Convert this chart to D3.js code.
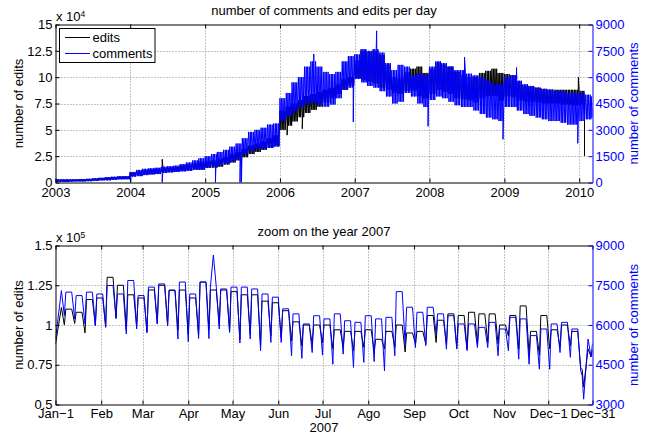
<!DOCTYPE html>
<html><head><meta charset="utf-8">
<script src="https://cdn.jsdelivr.net/npm/d3@7/dist/d3.min.js"></script>
<style>
body{margin:0;background:#fff}
text{font-family:"Liberation Sans",Arial,Helvetica,sans-serif}
</style></head><body>
<svg id="c" width="651" height="436"></svg>
<script>
// ---------- DATA (top chart: monthly weekday-high / weekend-low levels, Jan 2003 ->) ----------
const topStart = "2003-01-01";
const topEnd = "2010-03-07";
const editsEnd = "2010-01-27";
const commentsHiMonthly = [
 180,180,180,180,190,210,240,270,300,330,360,360,
 600,720,780,810,840,900,930,960,1050,1140,1260,1380,
 1500,1620,1740,1860,2040,2220,2520,2880,3000,3120,3300,3360,
 4800,5100,5700,6000,6600,6900,6600,6300,6180,6300,6900,7200,
 7300,7600,7500,7600,7400,6800,6400,6700,6600,6100,6200,6100,
 6600,6900,6800,6600,6400,6400,6200,6100,6000,5800,5600,5600,
 6000,6100,5800,5600,5500,5400,5300,5300,5200,5200,5100,5100,
 5100,5000,4900];
const commentsLoMonthly = [
 30,30,50,60,60,70,90,120,120,150,180,180,
 330,360,420,450,480,540,570,600,630,660,720,720,
 840,900,960,1080,1200,1320,1620,1800,1920,1920,1980,2040,
 3540,3780,4080,4320,4500,4560,4440,4320,4440,4800,5280,5400,
 5900,5700,5500,5400,5200,4900,4500,4600,5100,4900,4500,4300,
 4700,4900,4800,4600,4400,4300,4300,4100,3900,3700,3600,3500,
 4300,4300,4100,3900,3800,3700,3600,3500,3500,3400,3300,3300,
 3500,3600,3700];
const editsHiMonthly = [
 2800,2800,2800,3000,3200,3400,3800,4300,4800,5200,5600,5800,
 9500,11000,12000,12500,13000,14000,14500,15000,16000,17000,18500,19500,
 20000,21000,22000,24000,27000,29000,32000,35000,37000,39000,42000,45000,
 68000,72000,75000,78000,82000,84000,86000,88000,90000,93000,98000,100000,
 116000,125000,124000,125000,121000,112000,100000,98000,105000,108000,110000,104000,
 108000,114000,112000,110000,105000,102000,100000,100000,104000,106000,108000,104000,
 103000,102000,96000,92000,91000,90000,89000,88000,88000,88000,88000,88000,
 87000];
const editsLoMonthly = [
 800,800,1000,1200,1200,1400,1700,2200,2400,2800,3200,3300,
 6000,6500,7500,8000,8500,9500,10000,10500,11000,11500,12500,12500,
 14000,14000,15000,17000,19000,21000,24000,27000,29000,31000,33000,35000,
 50000,54000,58000,62000,66000,69000,72000,76000,80000,84000,88000,92000,
 99000,97000,96000,94000,90000,88000,85000,84000,87000,87000,82000,80000,
 84000,88000,86000,84000,80000,79000,78000,76000,80000,82000,82000,78000,
 82000,81000,78000,77000,77000,76000,75000,75000,75000,74000,74000,73000,
 74000];
// single-day outliers in the top chart
const commentsTopSpikeDates = ["2004-01-02","2004-06-05","2005-02-20","2005-06-20","2005-06-27","2005-12-25","2006-06-15","2006-12-25","2007-04-18","2007-12-25","2008-06-20","2008-12-25","2009-03-01","2009-12-25","2010-03-06"];
const commentsTopSpikeValues = [0,0,0,0,0,2100,7320,3450,8640,3200,7150,2460,6550,2230,4300];
const editsTopSpikeDates = ["2004-06-05","2006-02-05","2006-04-20","2009-12-28","2010-01-27"];
const editsTopSpikeValues = [22000,45000,51000,100000,25000];

// ---------- DATA (bottom chart: 2007, weekly weekday level and weekend level) ----------
const commentsWeekHi = [7300,7240,7110,7240,7170,7490,7170,7680,7110,7430,7550,7300,7620,7170,7620,7430,7360,7430,7430,7360,7170,7050,6610,6420,6040,6350,
 6230,6420,6160,6100,6350,6230,6290,7260,6670,6480,6670,6420,6350,6040,6040,5910,6100,5850,6290,6230,5600,5850,6040,6100,5850,5470];
const commentsWeekLo = [6350,6230,6040,5970,5910,6290,5660,5850,5700,6040,5970,5470,5370,5490,5490,5850,5720,5320,5470,5030,5340,5340,4840,4740,4960,4860,
 4520,4900,4400,4590,4620,4270,4840,5280,5150,5220,5660,5090,5090,5030,5150,5150,4840,5030,4710,4520,4330,4330,4960,4780,4270,4800];
const editsWeekHi = [111000,110000,108000,116000,117000,130000,125000,119000,117000,122000,125000,122000,122000,117000,127000,122000,122000,121000,119000,119000,115000,114000,109000,102000,100000,100000,
 100000,97000,96000,96000,97000,91000,96000,100000,95000,96000,106000,103000,107000,106000,108000,107000,107000,100000,106000,112000,96000,106000,97000,100000,96000,85000];
const editsWeekLo = [100000,101000,95000,100000,99000,104000,97000,99000,96000,101000,100000,97000,94000,94000,97000,100000,96000,91000,94000,87000,93000,92000,90000,87000,88000,89000,
 85000,86000,84000,86000,83000,85000,86000,83000,88000,88000,89000,88000,86000,85000,88000,89000,88000,93000,85000,81000,81000,85000,86000,87000,73000,80000];
const commentsDayDates = ["2007-01-01","2007-04-18","2007-12-24","2007-12-25","2007-12-31"];
const commentsDayValues = [5470,8640,4100,3200,5300];
const editsDayDates = ["2007-01-01","2007-12-24","2007-12-25","2007-12-31"];
const editsDayValues = [88000,72000,61000,84000];

// ---------- TICKS ----------
const yearTicks = [2003,2004,2005,2006,2007,2008,2009,2010];
const topLeftTicks = [0,25000,50000,75000,100000,125000,150000];
const topLeftLabels = ["0","2.5","5","7.5","10","12.5","15"];
const topRightTicks = [0,1500,3000,4500,6000,7500,9000];
const monthTickDates = ["2007-01-01","2007-02-01","2007-03-01","2007-04-01","2007-05-01","2007-06-01","2007-07-01","2007-08-01","2007-09-01","2007-10-01","2007-11-01","2007-12-01","2007-12-31"];
const monthTickLabels = ["Jan\u22121","Feb","Mar","Apr","May","Jun","Jul","Ago","Sep","Oct","Nov","Dec\u22121","Dec\u221231"];
const botLeftTicks = [50000,75000,100000,125000,150000];
const botLeftLabels = ["0.5","0.75","1","1.25","1.5"];
const botRightTicks = [3000,4500,6000,7500,9000];

// ---------- DRAW ----------
const BLUE = "#0000ff", FS = 13, DAY = 864e5;
const svg = d3.select("#c");
const P1 = {l:55.5, r:592.5, t:24.5, b:182.5};
const P2 = {l:55.5, r:592.5, t:245.5, b:404.5};

function buildTop(hi, lo, sd, sv, end){
  const pts = [];
  const offs = [0,4,8,11,15,19,23,26];
  hi.forEach((h,i)=>{
    const m0 = Date.UTC(2003, i, 1);
    offs.forEach((d,j)=>{
      const t = m0 + d*DAY; if (t <= end) pts.push({t, v: j%2 ? lo[i] : h});
    });
  });
  sd.forEach((s,j)=>pts.push({t:Date.parse(s), v:sv[j]}));
  return pts.sort((a,b)=>a.t-b.t);
}
function buildWeek(hi, lo, sd, sv){
  const m = new Map();
  hi.forEach((h,k)=>{
    const mon = Date.UTC(2007,0,1+7*k);
    m.set(mon, h); m.set(mon+4*DAY, h); m.set(mon+6*DAY, lo[k]);
  });
  sd.forEach((s,j)=>m.set(Date.parse(s), sv[j]));
  return Array.from(m, ([t,v])=>({t,v})).sort((a,b)=>a.t-b.t);
}

function styleAxis(g, color, showText){
  g.attr("font-family", null).attr("font-size", null);
  g.selectAll("path").attr("stroke", color).attr("stroke-width", 1);
  g.selectAll("line").attr("stroke", color).attr("stroke-width", 1);
  g.selectAll("text").attr("fill", color).style("font-size", FS+"px")
    .style("font-family", '"Liberation Sans",Arial,Helvetica,sans-serif');
  if (!showText) g.selectAll("text").remove();
}

function panel(P, x, yL, yR, xTicks, xLabels, yLTicks, yLLabels, yRTicks, series, title, expo){
  const clipId = "clip"+Math.round(P.t);
  svg.append("clipPath").attr("id", clipId).append("rect")
    .attr("x", P.l).attr("y", P.t).attr("width", P.r-P.l).attr("height", P.b-P.t);
  const grid = svg.append("g").attr("stroke", "#8a8a8a").attr("stroke-dasharray", "1,2").attr("stroke-width", 1);
  xTicks.slice(1, -1).forEach(t=>grid.append("line").attr("x1", Math.round(x(t))+0.5).attr("x2", Math.round(x(t))+0.5).attr("y1", P.t).attr("y2", P.b));
  if (x(xTicks[xTicks.length-1]) < P.r - 2) {
    const t = xTicks[xTicks.length-1];
    grid.append("line").attr("x1", Math.round(x(t))+0.5).attr("x2", Math.round(x(t))+0.5).attr("y1", P.t).attr("y2", P.b);
  }
  yLTicks.slice(1, -1).forEach(v=>grid.append("line").attr("x1", P.l).attr("x2", P.r).attr("y1", Math.round(yL(v))+0.5).attr("y2", Math.round(yL(v))+0.5));

  const g = svg.append("g").attr("clip-path", `url(#${clipId})`);
  series.forEach(s=>{
    const sc = s.axis === "L" ? yL : yR;
    g.append("path").datum(s.data).attr("fill", "none").attr("stroke", s.color).attr("stroke-width", 1)
      .attr("stroke-linejoin", "round")
      .attr("d", d3.line().x(d=>x(d.t)).y(d=>sc(d.v)));
  });

  const fmtX = d=>xLabels[xTicks.indexOf(+d)];
  svg.append("g").attr("transform", `translate(0,${P.b})`)
    .call(d3.axisBottom(x).tickValues(xTicks).tickFormat(fmtX).tickSize(-4).tickSizeOuter(0).tickPadding(P===P1?5:4.5))
    .call(g=>styleAxis(g, "#000", true));
  svg.append("g").attr("transform", `translate(0,${P.t})`)
    .call(d3.axisTop(x).tickValues(xTicks).tickSize(-4).tickSizeOuter(0))
    .call(g=>styleAxis(g, "#000", false));
  svg.append("g").attr("transform", `translate(${P.l},0)`)
    .call(d3.axisLeft(yL).tickValues(yLTicks).tickFormat((d,i)=>yLLabels[i]).tickSize(-4).tickSizeOuter(0).tickPadding(3))
    .call(g=>styleAxis(g, "#000", true));
  svg.append("g").attr("transform", `translate(${P.r},0)`)
    .call(d3.axisRight(yR).tickValues(yRTicks).tickFormat(d3.format("d")).tickSize(-4).tickSizeOuter(0).tickPadding(3))
    .call(g=>styleAxis(g, BLUE, true));

  svg.append("text").attr("x", (P.l+P.r)/2).attr("y", P.t-(P===P1?10:9.5)).attr("text-anchor", "middle")
    .style("font-size", FS+"px").text(title);
  const ex = svg.append("text").attr("x", P.l+0.5).attr("y", P.t-4).style("font-size", FS+"px").text("x 10");
  ex.append("tspan").attr("dy", -4).style("font-size", "8.5px").text(expo);
  const cy = (P.t+P.b)/2;
  svg.append("text").attr("transform", `translate(23,${cy}) rotate(-90)`).attr("text-anchor", "middle")
    .style("font-size", FS+"px").text("number of edits");
  svg.append("text").attr("transform", `translate(638,${cy}) rotate(-90)`).attr("text-anchor", "middle")
    .attr("fill", BLUE).style("font-size", FS+"px").text("number of comments");
}

// top panel
const x1 = d3.scaleUtc().domain([Date.parse(topStart), Date.parse(topEnd)]).range([P1.l, P1.r]);
const yL1 = d3.scaleLinear().domain([0,150000]).range([P1.b, P1.t]);
const yR1 = d3.scaleLinear().domain([0,9000]).range([P1.b, P1.t]);
const yearT = yearTicks.map(y=>Date.UTC(y,0,1));
panel(P1, x1, yL1, yR1, yearT, yearTicks.map(String), topLeftTicks, topLeftLabels, topRightTicks, [
  {axis:"L", color:"#000", data: buildTop(editsHiMonthly, editsLoMonthly, editsTopSpikeDates, editsTopSpikeValues, Date.parse(editsEnd))},
  {axis:"R", color:BLUE, data: buildTop(commentsHiMonthly, commentsLoMonthly, commentsTopSpikeDates, commentsTopSpikeValues, Date.parse(topEnd))}
], "number of comments and edits per day", "4");

// legend
const lg = svg.append("g");
lg.append("rect").attr("x", 59.5).attr("y", 28.5).attr("width", 95.5).attr("height", 34)
  .attr("fill", "#fff").attr("stroke", "#000");
[["edits","#000",37.5],["comments",BLUE,53.5]].forEach(([t,c,y])=>{
  lg.append("line").attr("x1", 65).attr("x2", 90).attr("y1", y).attr("y2", y).attr("stroke", c).attr("stroke-width", 1);
  lg.append("text").attr("x", 92.5).attr("y", y+4.6).style("font-size", FS+"px").text(t);
});

// bottom panel
const x2 = d3.scaleUtc().domain([Date.parse("2007-01-01"), Date.parse("2007-12-31")]).range([P2.l, P2.r]);
const yL2 = d3.scaleLinear().domain([50000,150000]).range([P2.b, P2.t]);
const yR2 = d3.scaleLinear().domain([3000,9000]).range([P2.b, P2.t]);
panel(P2, x2, yL2, yR2, monthTickDates.map(d=>Date.parse(d)), monthTickLabels, botLeftTicks, botLeftLabels, botRightTicks, [
  {axis:"L", color:"#000", data: buildWeek(editsWeekHi, editsWeekLo, editsDayDates, editsDayValues)},
  {axis:"R", color:BLUE, data: buildWeek(commentsWeekHi, commentsWeekLo, commentsDayDates, commentsDayValues)}
], "zoom on the year 2007", "5");
svg.append("text").attr("x", (P2.l+P2.r)/2).attr("y", 431.5).attr("text-anchor", "middle")
  .style("font-size", FS+"px").text("2007");
</script>
</body></html>
